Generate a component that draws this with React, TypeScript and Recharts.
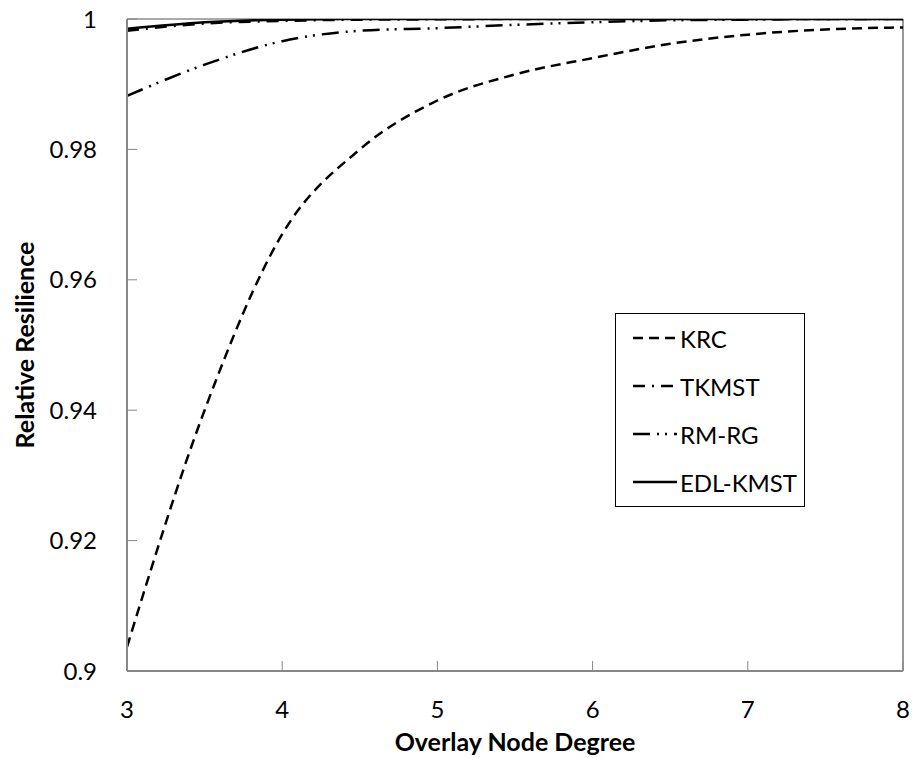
import React from 'react';
import {
    LineChart, Line, XAxis, YAxis, Legend, ReferenceLine
} from 'recharts';

const degrees = [3, 3.5, 4, 4.5, 5, 5.5, 6, 6.5, 7, 7.5, 8];
const krc = [0.9037, 0.940, 0.967, 0.980, 0.9875, 0.9915, 0.9940, 0.9962, 0.9976, 0.9984, 0.9987];
const tkmst = [0.9982, 0.9993, 0.9997, 0.9999, 0.99995, 1, 1, 1, 1, 1, 1];
const rmrg = [0.9882, 0.9930, 0.9966, 0.9982, 0.9986, 0.9991, 0.9995, 0.9998, 0.9999, 1, 1];
const edlkmst = [0.9985, 0.9995, 0.9999, 1, 1, 1, 1, 1, 1, 1, 1];

const xTicks = [3, 4, 5, 6, 7, 8];
const yTicks = [0.9, 0.92, 0.94, 0.96, 0.98, 1];

const SERIES = [
    { key: 'krc', name: 'KRC', dash: '10 6' },
    { key: 'tkmst', name: 'TKMST', dash: '12 7 2 7' },
    { key: 'rmrg', name: 'RM-RG', dash: '17 7 2 6 2 7' },
    { key: 'edlkmst', name: 'EDL-KMST', dash: undefined as string | undefined },
];

const data = degrees.map((d, i) => ({
    degree: d,
    krc: krc[i],
    tkmst: tkmst[i],
    rmrg: rmrg[i],
    edlkmst: edlkmst[i],
}));

const FONT = 'Lato, "Open Sans", sans-serif';
const AXIS_GRAY = '#878787';

const LegendBox = () => (
    <div style={{
        border: '1.5px solid #000',
        background: '#fff',
        width: 188,
        fontFamily: FONT,
        fontSize: 24,
        color: '#000',
    }}>
        {SERIES.map(s => (
            <div key={s.key} style={{ height: 48, display: 'flex', alignItems: 'center', paddingLeft: 17 }}>
                <svg width={44} height={6} style={{ marginRight: 3 }}>
                    <line x1={0} y1={3} x2={44} y2={3} stroke="#000" strokeWidth={2.5} strokeDasharray={s.dash} />
                </svg>
                <span>{s.name}</span>
            </div>
        ))}
    </div>
);

export default function App() {
    return (
        <div style={{ position: 'absolute', left: 0, top: 0, background: '#fff' }}>
            <LineChart
                width={912}
                height={758}
                data={data}
                margin={{ top: 19, right: 9, bottom: 57, left: 67 }}
                style={{ fontFamily: FONT }}
            >
                <XAxis
                    dataKey="degree"
                    type="number"
                    domain={[3, 8]}
                    ticks={xTicks}
                    height={30}
                    axisLine={{ stroke: AXIS_GRAY, strokeWidth: 2 }}
                    tickLine={{ stroke: AXIS_GRAY, strokeWidth: 1 }}
                    tickSize={-10}
                    tickMargin={40}
                    tick={{ fill: '#000', fontSize: 24 }}
                    label={{
                        value: 'Overlay Node Degree',
                        position: 'bottom',
                        offset: 32,
                        style: { fontWeight: 'bold', fontSize: 25, fill: '#000' },
                    }}
                />
                <YAxis
                    type="number"
                    domain={[0.9, 1]}
                    ticks={yTicks}
                    width={60}
                    allowDataOverflow
                    axisLine={{ stroke: AXIS_GRAY, strokeWidth: 2 }}
                    tickLine={{ stroke: AXIS_GRAY, strokeWidth: 1 }}
                    tickSize={-10}
                    tickMargin={40}
                    tick={{ fill: '#000', fontSize: 24 }}
                    tickFormatter={(v: number) => String(Number(v.toFixed(2)))}
                    label={{
                        value: 'Relative Resilience',
                        angle: -90,
                        position: 'left',
                        offset: 42,
                        style: { fontWeight: 'bold', fontSize: 25, fill: '#000', textAnchor: 'middle' },
                    }}
                />
                <ReferenceLine y={1} stroke="#555" strokeWidth={1} />
                <ReferenceLine x={8} stroke="#333" strokeWidth={1} />
                {SERIES.map(s => (
                    <Line
                        key={s.key}
                        type="monotone"
                        dataKey={s.key}
                        name={s.name}
                        stroke="#000"
                        strokeWidth={2.5}
                        strokeDasharray={s.dash}
                        dot={false}
                        activeDot={false}
                        isAnimationActive={false}
                    />
                ))}
                <Legend
                    layout="vertical"
                    align="center"
                    verticalAlign="middle"
                    content={<LegendBox />}
                    wrapperStyle={{ position: 'absolute', left: 615, top: 313, width: 'auto' }}
                />
            </LineChart>
        </div>
    );
}
